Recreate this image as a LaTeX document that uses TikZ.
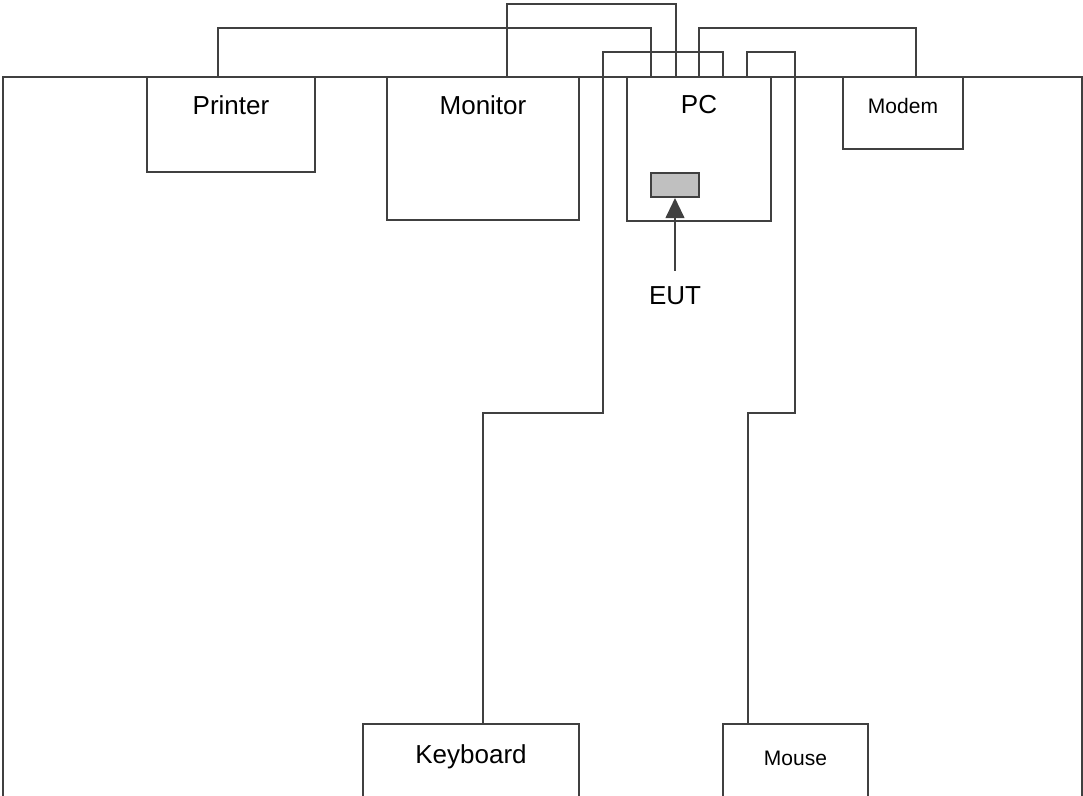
\documentclass[tikz,border=0pt]{standalone}
\usepackage{fontspec}
\setmainfont{Liberation Sans}
\usepackage{xcolor}
\definecolor{wire}{RGB}{64,64,64}
\definecolor{slotgray}{RGB}{192,192,192}
\usepackage{tikz}
\usetikzlibrary{arrows.meta, calc, fit}

\begin{document}
\begin{tikzpicture}[x=0.75pt, y=-0.75pt,
    devbox/.style={draw=wire, line width=1.5pt, inner sep=0pt},
    bigtxt/.style={font=\fontsize{19.5}{23}\selectfont, anchor=base, inner sep=0pt},
    smalltxt/.style={font=\fontsize{15.75}{19}\selectfont, anchor=base, inner sep=0pt},
    cable/.style={draw=wire, line width=1.5pt}]
  \useasboundingbox (0,0) rectangle (1083,796);
  \clip (0,0) rectangle (1083,796);

  % Table outline (runs past the bottom edge)
  \node[devbox, fit={(3,77)(1082,840)}] (table) {};

  % Devices on the table
  \node[devbox, fit={(147,77)(315,172)}] (printer) {};
  \node[bigtxt] (printerlbl) at ($(printer.north)+(0,38)$) {Printer};

  \node[devbox, fit={(387,77)(579,220)}] (monitor) {};
  \node[bigtxt] (monitorlbl) at ($(monitor.north)+(0,38)$) {Monitor};

  \node[devbox, fit={(627,77)(771,221)}] (pc) {};
  \node[bigtxt] (pclbl) at ($(pc.north)+(0,37)$) {PC};

  \node[devbox, fit={(843,77)(963,149)}] (modem) {};
  \node[smalltxt] (modemlbl) at ($(modem.north)+(0,37)$) {Modem};

  \node[devbox, fit={(363,724)(579,840)}] (keyboard) {};
  \node[bigtxt] (keyboardlbl) at ($(keyboard.north)+(0,40)$) {Keyboard};

  \node[devbox, fit={(723,724)(868,840)}] (mouse) {};
  \node[smalltxt] (mouselbl) at ($(mouse.north)+(0,42)$) {Mouse};

  % EUT slot inside the PC
  \node[devbox, fill=slotgray, fit={(651,173)(699,197)}] (slot) {};
  \node[bigtxt, inner ysep=11.5pt] (eutlbl) at (675,304) {EUT};
  \draw[cable, -{Triangle[length=15pt,width=14pt]}] (eutlbl.north) -- (slot.south);

  % Cables
  \draw[cable] ($(printer.north)+(-13,0)$) |- ($(pc.north)+(-48,-48)$) -- ($(pc.north)+(-48,0)$);
  \draw[cable] ($(monitor.north)+(24,0)$) |- ($(pc.north)+(-23,-72)$) -- ($(pc.north)+(-23,0)$);
  \draw[cable] ($(modem.north)+(13,0)$) |- ($(pc.north)+(0,-48)$) -- (pc.north);
  \draw[cable] ($(pc.north)+(24,0)$) -- ++(0,-24) -| (603,413) -| ($(keyboard.north)+(12,0)$);
  \draw[cable] ($(pc.north)+(48,0)$) -- ++(0,-24) -| (795,413) -| ($(mouse.north)+(-48,0)$);
\end{tikzpicture}
\end{document}
